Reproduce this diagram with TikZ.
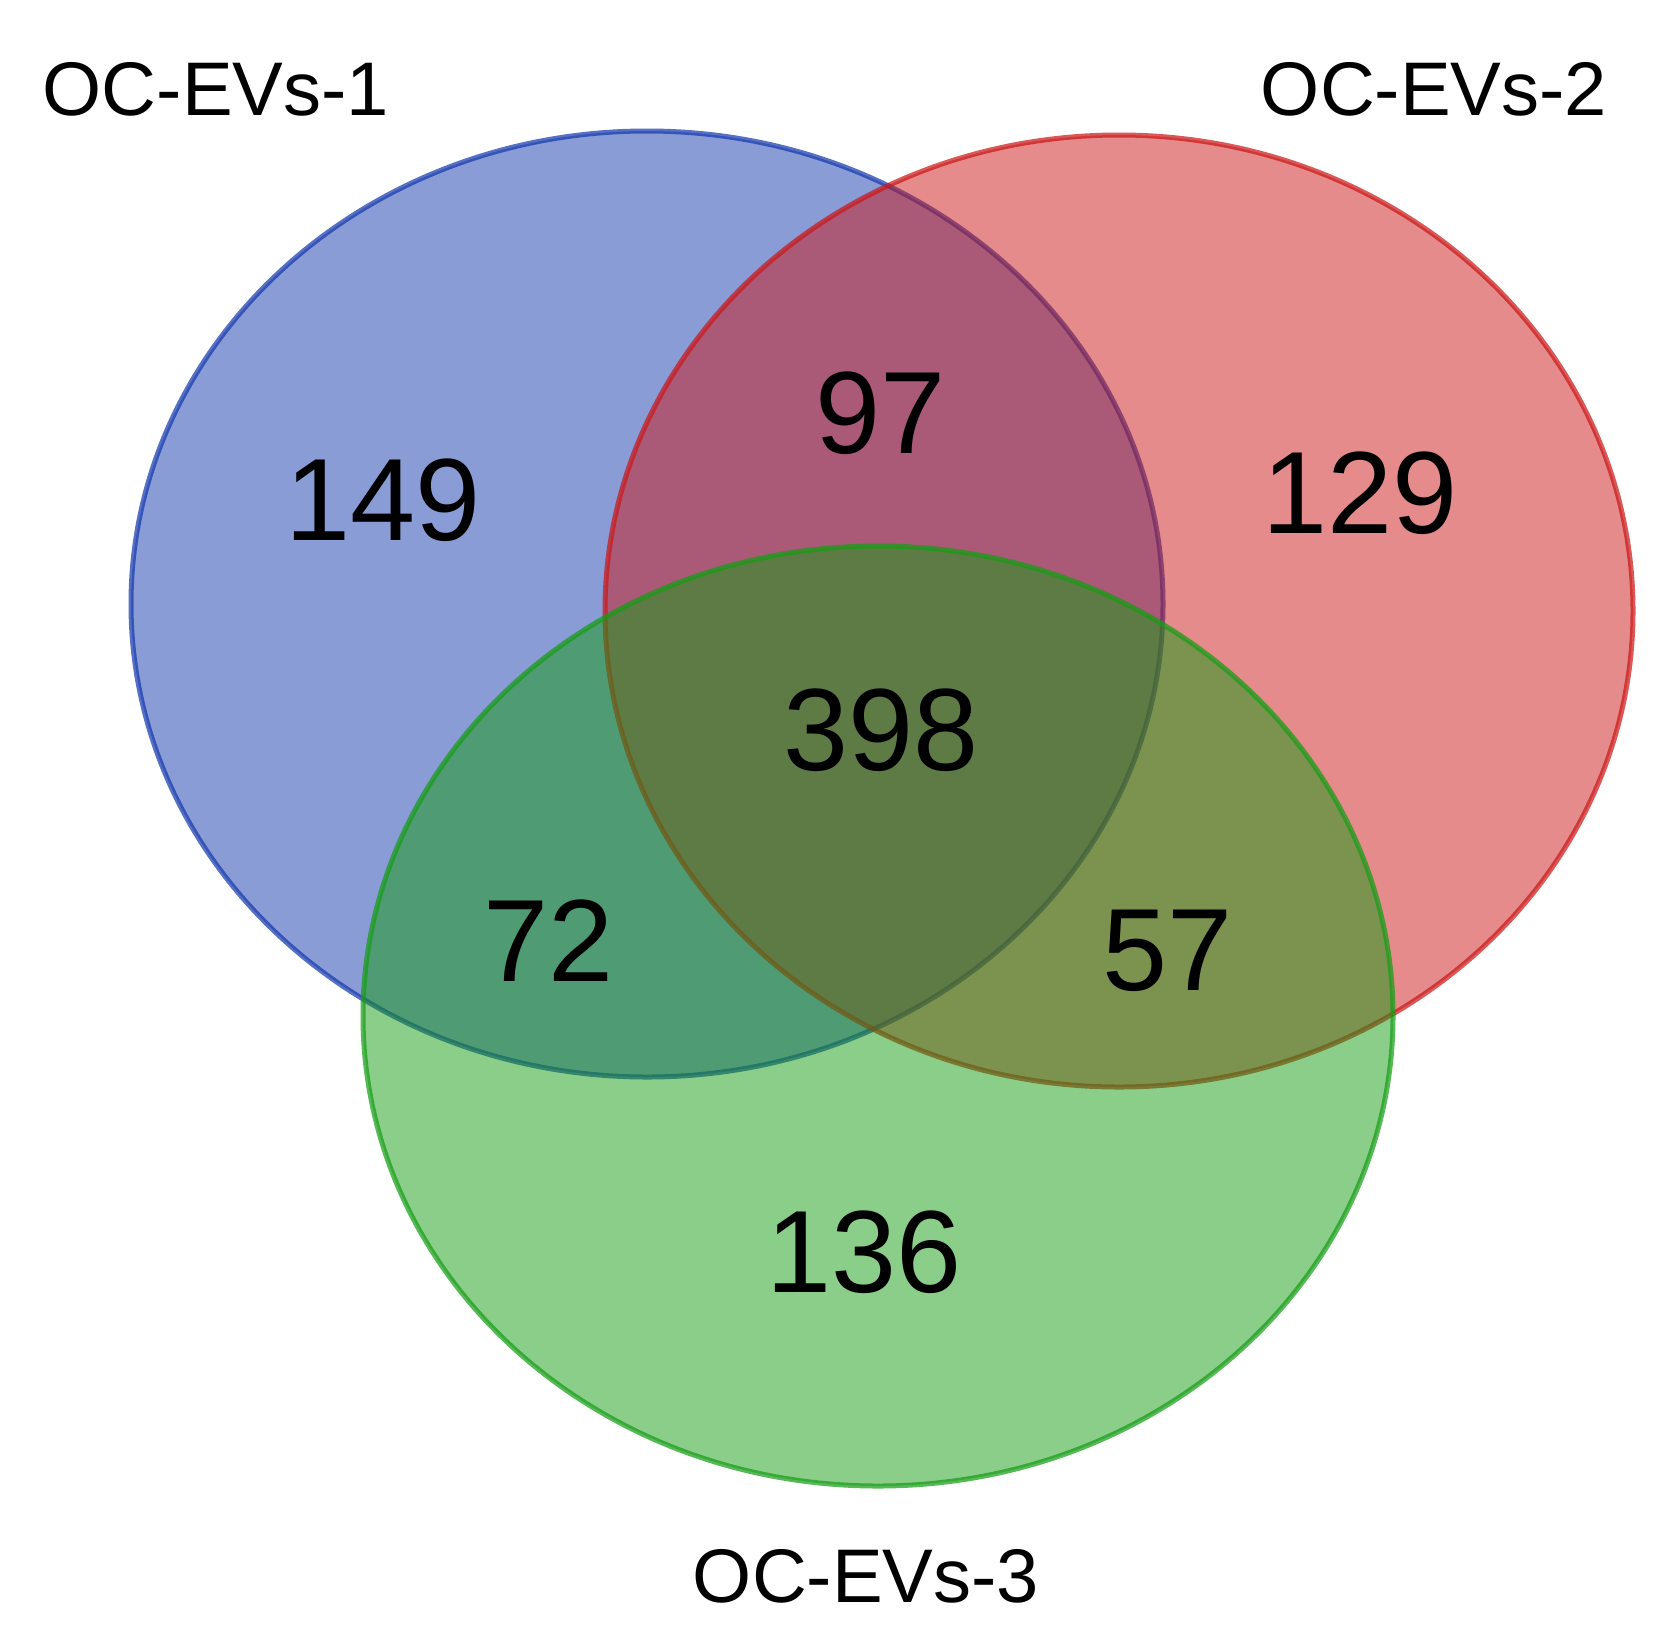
\documentclass[tikz,border=0pt]{standalone}
\usepackage{fontspec}
\setmainfont{Liberation Sans}
\definecolor{vblue}{RGB}{21,57,173}
\definecolor{vred}{RGB}{203,23,23}
\definecolor{vgreen}{RGB}{21,157,21}
\tikzset{
  vset/.style={fill=#1, draw=#1, fill opacity=0.5, draw opacity=0.72, line width=5pt},
  setlabel/.style={anchor=base, inner sep=0pt, font=\fontsize{76}{88}\selectfont},
  count/.style={anchor=base, inner sep=0pt, font=\fontsize{117}{130}\selectfont}
}
\begin{document}
\begin{tikzpicture}[x=1pt,y=-1pt]
\useasboundingbox (0,0) rectangle (1672,1634);
\path[vset=vblue]  (647,604)  ellipse [x radius=516, y radius=473];
\path[vset=vred]   (1119,611) ellipse [x radius=514, y radius=476];
\path[vset=vgreen] (878,1016) ellipse [x radius=515, y radius=470];
\node[setlabel] (l1) at (216,115) {OC-EVs-1};
\node[setlabel] (l2) at (1434,115) {OC-EVs-2};
\node[setlabel] (l3) at (866,1602) {OC-EVs-3};
\node[count] (n149) at (383,540) {149};
\node[count] (n97) at (881,453) {97};
\node[count] (n129) at (1360,533) {129};
\node[count] (n398) at (881,770) {398};
\node[count] (n72) at (549,981) {72};
\node[count] (n57) at (1168,990) {57};
\node[count] (n136) at (864,1292) {136};
\end{tikzpicture}
\end{document}
